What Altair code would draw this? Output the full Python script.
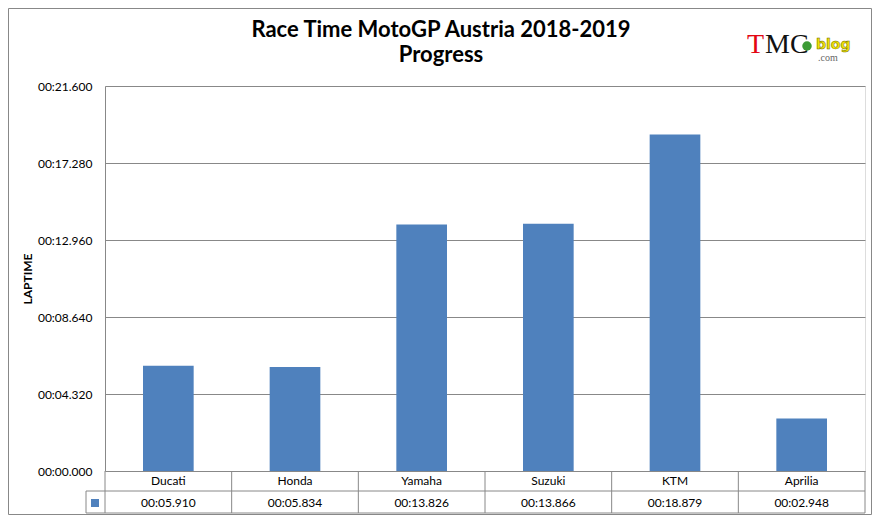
import altair as alt
import pandas as pd

# ---- data ----
teams = ["Ducati", "Honda", "Yamaha", "Suzuki", "KTM", "Aprilia"]
gaps = [5.910, 5.834, 13.826, 13.866, 18.879, 2.948]
y_ticks = [0, 4.32, 8.64, 12.96, 17.28, 21.6]
title_line1 = "Race Time MotoGP Austria 2018-2019"
title_line2 = "Progress"

df = pd.DataFrame({"team": teams, "gap": gaps})
one = pd.DataFrame({"k": [0]})

BLUE = "#4F81BD"
GRID = "#888888"
FONT = "Lato"
W, H = 760, 385
STEP = W / len(teams)

fmt = '"00:" + (%s < 10 ? "0" : "") + format(%s, ".3f")'

xband = alt.X("team:N", sort=teams, axis=None,
              scale=alt.Scale(paddingInner=0.6, paddingOuter=0.3))

bars = alt.Chart(df).mark_bar(color=BLUE).encode(
    x=xband,
    y=alt.Y("gap:Q",
            scale=alt.Scale(domain=[0, 21.6], nice=False, zero=True),
            axis=alt.Axis(values=y_ticks, title="LAPTIME",
                          labelExpr=fmt % ("datum.value", "datum.value"),
                          grid=True, gridColor=GRID, gridWidth=1,
                          domainColor=GRID, ticks=False, labelPadding=13,
                          labelFont=FONT, labelFontSize=12, labelColor="#000",
                          titleFont=FONT, titleFontSize=12, titleFontWeight="bold",
                          titleColor="#000", titleAngle=-90, titleX=-78,
                          titleY=H / 2, titleAlign="center",
                          titleBaseline="middle")),
)

head_text = alt.Chart(df).mark_text(font=FONT, fontSize=12, color="#000").encode(
    x=xband, y=alt.value(395), text="team:N")

val_text = alt.Chart(df).transform_calculate(
    lbl=fmt % ("datum.gap", "datum.gap")
).mark_text(font=FONT, fontSize=12, color="#000").encode(
    x=xband, y=alt.value(416.5), text="lbl:N")

# table column boundaries
col_lines = alt.Chart(df).mark_rule(color=GRID, xOffset=STEP / 2).encode(
    x=xband, y=alt.value(385), y2=alt.value(427))
left_line = alt.Chart(one).mark_rule(color=GRID).encode(
    x=alt.value(0), y=alt.value(385), y2=alt.value(427))
leg_left = alt.Chart(one).mark_rule(color=GRID).encode(
    x=alt.value(-19), y=alt.value(405), y2=alt.value(427))
row_line = alt.Chart(one).mark_rule(color=GRID).encode(
    x=alt.value(-19), x2=alt.value(W), y=alt.value(405))
bot_line = alt.Chart(one).mark_rule(color=GRID).encode(
    x=alt.value(-19), x2=alt.value(W), y=alt.value(427))
leg_sq = alt.Chart(one).mark_rect(color=BLUE).encode(
    x=alt.value(-14), x2=alt.value(-6), y=alt.value(413), y2=alt.value(421))

# outer frame
frame = alt.Chart(one).mark_rect(fillOpacity=0, stroke=GRID, strokeWidth=1).encode(
    x=alt.value(-96.5), x2=alt.value(766.5), y=alt.value(-77.5), y2=alt.value(428.5))

# title (two lines)
title1 = alt.Chart(one).mark_text(font=FONT, fontSize=22, fontWeight="bold", color="#000",
                                  align="center", baseline="alphabetic").encode(
    x=alt.value(336), y=alt.value(-49), text=alt.value(title_line1))
title2 = alt.Chart(one).mark_text(font=FONT, fontSize=22, fontWeight="bold", color="#000",
                                  align="center", baseline="alphabetic").encode(
    x=alt.value(336), y=alt.value(-24), text=alt.value(title_line2))

# logo
logo_t = alt.Chart(one).mark_text(font="Liberation Serif", fontSize=28, color="#E30613",
                                  align="left", baseline="alphabetic").encode(
    x=alt.value(642), y=alt.value(-33), text=alt.value("T"))
logo_mc = alt.Chart(one).mark_text(font="Liberation Serif", fontSize=28, color="#111",
                                   align="left", baseline="alphabetic").encode(
    x=alt.value(660), y=alt.value(-33), text=alt.value("MC"))
logo_dot = alt.Chart(one).mark_point(filled=True, color="#3C9B35", size=90, opacity=1).encode(
    x=alt.value(702), y=alt.value(-40))
logo_blog = alt.Chart(one).mark_text(font="DejaVu Sans", fontSize=14, fontWeight="bold",
                                     color="#F2E205", stroke="#6b6b00", strokeWidth=0.5,
                                     align="left", baseline="alphabetic").encode(
    x=alt.value(711), y=alt.value(-37), text=alt.value("blog"))
logo_com = alt.Chart(one).mark_text(font="Liberation Serif", fontSize=10, color="#666",
                                    align="left", baseline="alphabetic").encode(
    x=alt.value(713), y=alt.value(-25), text=alt.value(".com"))

chart = alt.layer(
    frame, bars, col_lines, left_line, leg_left, row_line, bot_line, leg_sq,
    head_text, val_text, title1, title2,
    logo_t, logo_mc, logo_dot, logo_blog, logo_com
).properties(
    width=W, height=H,
    autosize=alt.AutoSizeParams(type="none"),
    padding={"left": 97, "top": 78, "right": 7, "bottom": 44},
).configure_view(stroke=None).configure(background="white")

chart.save("out.html", embed_options={"renderer": "svg", "actions": False})
